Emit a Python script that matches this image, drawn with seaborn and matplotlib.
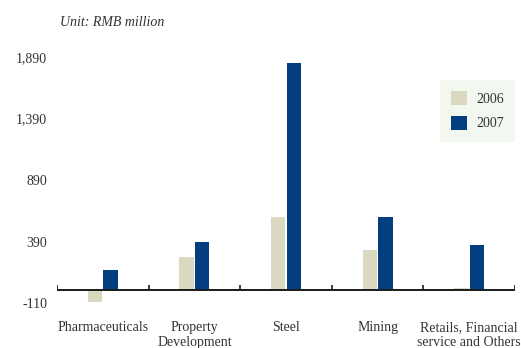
import matplotlib
matplotlib.use("Agg")
import matplotlib.pyplot as plt
import seaborn as sns
import pandas as pd
import numpy as np

categories = ["Pharmaceuticals", "Property\nDevelopment", "Steel", "Mining",
              "Retails, Financial\nservice and Others"]
values_2006 = [-100, 268, 593, 320, 15]
values_2007 = [163, 385, 1845, 593, 366]
years = ["2006", "2007"]
yticks = [-110, 390, 890, 1390, 1890]

df = pd.DataFrame({
    "category": categories * 2,
    "value": values_2006 + values_2007,
    "year": [years[0]] * len(categories) + [years[1]] * len(categories),
})

sns.set_theme(style="white")
plt.rcParams["font.family"] = ["Liberation Serif", "DejaVu Serif"]
text_color = "#333333"

fig = plt.figure(figsize=(5.21, 3.48), dpi=100)
ax = fig.add_axes([57 / 521, 1 - 310 / 348, (515 - 57) / 521, (310 - 45) / 348])

palette = {"2006": "#dad8c1", "2007": "#033f80"}
sns.barplot(data=df, x="category", y="value", hue="year", palette=palette,
            width=0.34, gap=0.07, ax=ax, saturation=1, linewidth=0)

ax.set_xlim(-0.5, len(categories) - 0.5)
ax.set_ylim(-163, 1988)
for s in ax.spines.values():
    s.set_visible(False)

ax.set_yticks(yticks)
ax.set_yticklabels([f"{v:,}" for v in yticks])
ax.tick_params(axis="y", length=0, pad=7, labelsize=10, labelcolor=text_color)
ax.tick_params(axis="x", length=0, pad=8, labelsize=10, labelcolor=text_color)
ax.set_xlabel("")
ax.set_ylabel("")

# zero baseline and category separator ticks
ax.axhline(0, color="#1a1a1a", linewidth=1.4, zorder=3)
bounds = np.arange(len(categories) + 1) - 0.5
tick_h = 5 / (265 / (1988 + 163))
ax.vlines(bounds, 0, tick_h, color="#1a1a1a", linewidth=1.2, zorder=3)

leg = ax.legend(loc="upper right", bbox_to_anchor=(515 / 521, 1 - 80 / 348),
                bbox_transform=fig.transFigure, frameon=True, fontsize=10,
                handlelength=1.15, handleheight=1.2, labelspacing=0.7,
                handletextpad=0.65, borderpad=0.8, borderaxespad=0,
                fancybox=False)
leg.get_frame().set_facecolor("#eff6ec")
leg.get_frame().set_edgecolor("none")
for t in leg.get_texts():
    t.set_color(text_color)

fig.text(60 / 521, 1 - 22 / 348, "Unit: RMB million", style="italic",
         fontsize=10, color=text_color, va="center", ha="left")

fig.savefig("out.png", dpi=100)
